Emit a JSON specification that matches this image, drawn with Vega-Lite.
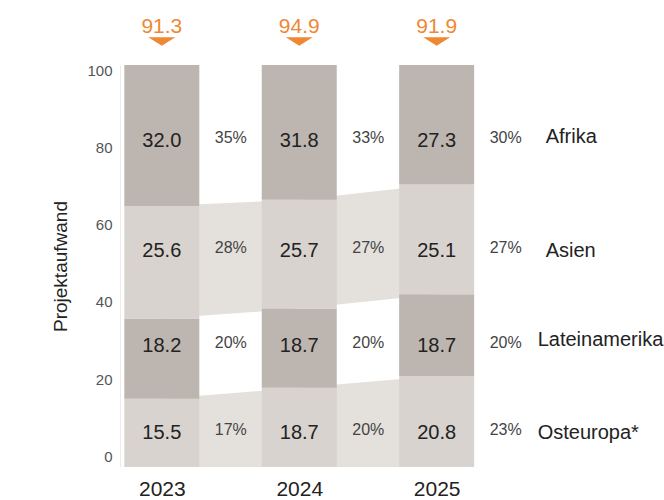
{
  "$schema": "https://vega.github.io/schema/vega-lite/v6.json",
  "width": 544,
  "height": 402,
  "autosize": {"type": "none"},
  "padding": {"left": 120, "top": 65, "right": 0, "bottom": 33},
  "config": {"view": {"stroke": null}, "font": "Liberation Sans"},
  "datasets": {
    "bars": [
      {"year": 2023, "region": "Osteuropa", "value": 15.5, "share": 0.17},
      {"year": 2023, "region": "Lateinamerika", "value": 18.2, "share": 0.20},
      {"year": 2023, "region": "Asien", "value": 25.6, "share": 0.28},
      {"year": 2023, "region": "Afrika", "value": 32.0, "share": 0.35},
      {"year": 2024, "region": "Osteuropa", "value": 18.7, "share": 0.20},
      {"year": 2024, "region": "Lateinamerika", "value": 18.7, "share": 0.20},
      {"year": 2024, "region": "Asien", "value": 25.7, "share": 0.27},
      {"year": 2024, "region": "Afrika", "value": 31.8, "share": 0.33},
      {"year": 2025, "region": "Osteuropa", "value": 20.8, "share": 0.23},
      {"year": 2025, "region": "Lateinamerika", "value": 18.7, "share": 0.20},
      {"year": 2025, "region": "Asien", "value": 25.1, "share": 0.27},
      {"year": 2025, "region": "Afrika", "value": 27.3, "share": 0.30}
    ],
    "sides": [
      {"year": 2023, "side": "L", "region": "Osteuropa", "value": 15.5},
      {"year": 2023, "side": "L", "region": "Lateinamerika", "value": 18.2},
      {"year": 2023, "side": "L", "region": "Asien", "value": 25.6},
      {"year": 2023, "side": "L", "region": "Afrika", "value": 32.0},
      {"year": 2023, "side": "R", "region": "Osteuropa", "value": 15.5},
      {"year": 2023, "side": "R", "region": "Lateinamerika", "value": 18.2},
      {"year": 2023, "side": "R", "region": "Asien", "value": 25.6},
      {"year": 2023, "side": "R", "region": "Afrika", "value": 32.0},
      {"year": 2024, "side": "L", "region": "Osteuropa", "value": 18.7},
      {"year": 2024, "side": "L", "region": "Lateinamerika", "value": 18.7},
      {"year": 2024, "side": "L", "region": "Asien", "value": 25.7},
      {"year": 2024, "side": "L", "region": "Afrika", "value": 31.8},
      {"year": 2024, "side": "R", "region": "Osteuropa", "value": 18.7},
      {"year": 2024, "side": "R", "region": "Lateinamerika", "value": 18.7},
      {"year": 2024, "side": "R", "region": "Asien", "value": 25.7},
      {"year": 2024, "side": "R", "region": "Afrika", "value": 31.8},
      {"year": 2025, "side": "L", "region": "Osteuropa", "value": 20.8},
      {"year": 2025, "side": "L", "region": "Lateinamerika", "value": 18.7},
      {"year": 2025, "side": "L", "region": "Asien", "value": 25.1},
      {"year": 2025, "side": "L", "region": "Afrika", "value": 27.3},
      {"year": 2025, "side": "R", "region": "Osteuropa", "value": 20.8},
      {"year": 2025, "side": "R", "region": "Lateinamerika", "value": 18.7},
      {"year": 2025, "side": "R", "region": "Asien", "value": 25.1},
      {"year": 2025, "side": "R", "region": "Afrika", "value": 27.3}
    ],
    "totals": [
      {"year": 2023, "total": 91.3},
      {"year": 2024, "total": 94.9},
      {"year": 2025, "total": 91.9}
    ]
  },
  "resolve": {"scale": {"y": "independent"}, "axis": {"y": "independent"}},
  "layer": [
    {
      "data": {"values": [{"v": 0}]},
      "mark": {"type": "point", "opacity": 0},
      "encoding": {
        "y": {
          "datum": 50,
          "type": "quantitative",
          "scale": {"domain": [-2.8, 101.43], "nice": false, "zero": false},
          "axis": {
            "orient": "left",
            "values": [0, 20, 40, 60, 80, 100],
            "title": "Projektaufwand",
            "grid": false,
            "ticks": false,
            "domain": true,
            "domainColor": "#ececec",
            "labelFontSize": 15,
            "labelColor": "#555555",
            "labelPadding": 8,
            "titleFontSize": 19,
            "titleFontWeight": "normal",
            "titleColor": "#222222",
            "titlePadding": 16
          }
        }
      }
    },
    {
      "encoding": {
        "x": {
          "field": "year",
          "type": "quantitative",
          "scale": {"domain": [2022.732, 2026.618], "nice": false, "zero": false},
          "axis": {
            "values": [2023, 2024, 2025],
            "format": "d",
            "title": null,
            "grid": false,
            "ticks": false,
            "domain": false,
            "labelFontSize": 21,
            "labelColor": "#222222",
            "labelPadding": 11
          }
        }
      },
      "layer": [
        {
          "data": {"name": "sides"},
          "transform": [
            {"stack": "value", "groupby": ["year", "side"], "sort": [{"field": "region", "order": "descending"}], "offset": "normalize", "as": ["lo", "hi"]},
            {"filter": {"field": "region", "oneOf": ["Asien", "Osteuropa"]}}
          ],
          "mark": {"type": "area", "color": "#E4E0DC"},
          "encoding": {
            "xOffset": {"field": "side", "type": "nominal", "scale": {"type": "point", "domain": ["L", "R"], "range": [-37.5, 37.5], "padding": 0}},
            "y": {"field": "hi", "type": "quantitative", "scale": {"domain": [0, 1], "nice": false}, "axis": null},
            "y2": {"field": "lo"},
            "detail": {"field": "region"},
            "order": [{"field": "year"}, {"field": "side"}]
          }
        },
        {
          "data": {"name": "bars"},
          "mark": {"type": "bar", "width": 75, "orient": "vertical"},
          "encoding": {
            "y": {"field": "value", "type": "quantitative", "stack": "normalize", "scale": {"domain": [0, 1], "nice": false}, "axis": null},
            "color": {
              "field": "region",
              "type": "nominal",
              "scale": {"domain": ["Osteuropa", "Lateinamerika", "Asien", "Afrika"], "range": ["#D8D3CE", "#BDB5AF", "#D8D3CE", "#BDB5AF"]},
              "legend": null
            },
            "order": {"field": "region", "sort": "descending"}
          }
        },
        {
          "data": {"name": "totals"},
          "mark": {"type": "text", "fontSize": 21, "color": "#EF8833", "dy": -38},
          "encoding": {
            "y": {"datum": 1, "type": "quantitative", "axis": null},
            "text": {"field": "total", "type": "quantitative", "format": ".1f"}
          }
        },
        {
          "data": {"name": "totals"},
          "mark": {"type": "point", "shape": "M-1,-0.31L1,-0.31L0,0.31Z", "size": 729, "filled": true, "color": "#EF8833", "opacity": 1, "yOffset": -23.5},
          "encoding": {
            "y": {"datum": 1, "type": "quantitative", "axis": null}
          }
        },
        {
          "data": {"name": "bars"},
          "transform": [{"filter": {"field": "region", "equal": "Afrika"}}],
          "encoding": {"y": {"datum": 0.8117, "type": "quantitative", "axis": null}},
          "layer": [
            {"mark": {"type": "text", "fontSize": 20, "color": "#222222"}, "encoding": {"text": {"field": "value", "type": "quantitative", "format": ".1f"}}},
            {"mark": {"type": "text", "fontSize": 16, "color": "#444444", "dx": 69, "dy": -3}, "encoding": {"text": {"field": "share", "type": "quantitative", "format": ".0%"}}},
            {"transform": [{"filter": {"field": "year", "equal": 2025}}], "mark": {"type": "text", "fontSize": 20, "color": "#222222", "align": "left", "dx": 109, "dy": -4}, "encoding": {"text": {"value": "Afrika"}}}
          ]
        },
        {
          "data": {"name": "bars"},
          "transform": [{"filter": {"field": "region", "equal": "Asien"}}],
          "encoding": {"y": {"datum": 0.5366, "type": "quantitative", "axis": null}},
          "layer": [
            {"mark": {"type": "text", "fontSize": 20, "color": "#222222"}, "encoding": {"text": {"field": "value", "type": "quantitative", "format": ".1f"}}},
            {"mark": {"type": "text", "fontSize": 16, "color": "#444444", "dx": 69, "dy": -3}, "encoding": {"text": {"field": "share", "type": "quantitative", "format": ".0%"}}},
            {"transform": [{"filter": {"field": "year", "equal": 2025}}], "mark": {"type": "text", "fontSize": 20, "color": "#222222", "align": "left", "dx": 109, "dy": 0}, "encoding": {"text": {"value": "Asien"}}}
          ]
        },
        {
          "data": {"name": "bars"},
          "transform": [{"filter": {"field": "region", "equal": "Lateinamerika"}}],
          "encoding": {"y": {"datum": 0.3002, "type": "quantitative", "axis": null}},
          "layer": [
            {"mark": {"type": "text", "fontSize": 20, "color": "#222222"}, "encoding": {"text": {"field": "value", "type": "quantitative", "format": ".1f"}}},
            {"mark": {"type": "text", "fontSize": 16, "color": "#444444", "dx": 69, "dy": -3}, "encoding": {"text": {"field": "share", "type": "quantitative", "format": ".0%"}}},
            {"transform": [{"filter": {"field": "year", "equal": 2025}}], "mark": {"type": "text", "fontSize": 20, "color": "#222222", "align": "left", "dx": 101, "dy": -6}, "encoding": {"text": {"value": "Lateinamerika"}}}
          ]
        },
        {
          "data": {"name": "bars"},
          "transform": [{"filter": {"field": "region", "equal": "Osteuropa"}}],
          "encoding": {"y": {"datum": 0.0846, "type": "quantitative", "axis": null}},
          "layer": [
            {"mark": {"type": "text", "fontSize": 20, "color": "#222222"}, "encoding": {"text": {"field": "value", "type": "quantitative", "format": ".1f"}}},
            {"mark": {"type": "text", "fontSize": 16, "color": "#444444", "dx": 69, "dy": -3}, "encoding": {"text": {"field": "share", "type": "quantitative", "format": ".0%"}}},
            {"transform": [{"filter": {"field": "year", "equal": 2025}}], "mark": {"type": "text", "fontSize": 20, "color": "#222222", "align": "left", "dx": 101, "dy": 0}, "encoding": {"text": {"value": "Osteuropa*"}}}
          ]
        }
      ]
    }
  ]
}
